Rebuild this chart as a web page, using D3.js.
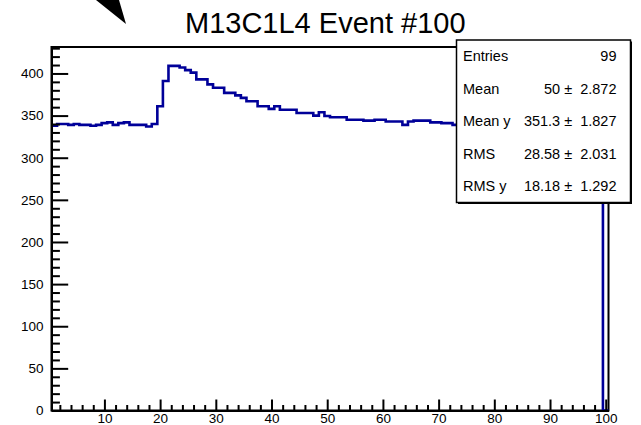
<!DOCTYPE html>
<html>
<head>
<meta charset="utf-8">
<script src="https://cdn.jsdelivr.net/npm/d3@7"></script>
<style>
  body { margin: 0; background: #fff; overflow: hidden; }
  svg { display: block; font-family: "Liberation Sans", Arial, sans-serif; }
</style>
</head>
<body>
<svg id="chart" width="641" height="425"></svg>
<script>
// ================= DATA ===================
// histogram binning (100 bins from 0.5 to 100.5)
const binLow = 0.5;
const binHigh = 100.5;

// bin contents, bins 1..100
const counts = [
  338, 340, 340, 339, 340, 339, 339, 338, 339, 341,
  342, 339, 341, 342, 339, 339, 339, 337, 340, 361,
  391, 409, 409, 407, 404, 401, 393, 393, 387, 383,
  383, 377, 377, 374, 371, 367, 367, 361, 361, 358,
  361, 357, 357, 357, 353, 353, 353, 350, 354, 349.5,
  348, 348, 348, 345, 345, 345, 344, 344, 345, 345,
  343, 343, 343, 339, 343, 344, 344, 344, 342, 342,
  341, 341, 339, 341, 340, 342, 339, 340, 341, 338,
  340, 339, 341, 340, 338, 339, 341, 340, 339, 338,
  340, 341, 339, 338, 340, 339, 341, 340, 339, 0
];

const xMajorTicks = [10, 20, 30, 40, 50, 60, 70, 80, 90, 100];
const yMajorTicks = [0, 50, 100, 150, 200, 250, 300, 350, 400];

const title = "M13C1L4 Event #100";
const statLabels = ["Entries", "Mean", "Mean y", "RMS", "RMS y"];
const statValues = ["99", "50 \u00b1  2.872", "351.3 \u00b1  1.827", "28.58 \u00b1  2.031", "18.18 \u00b1  1.292"];

// ================= LAYOUT ===================
const frame = { left: 51.5, right: 608.5, top: 47, bottom: 410.5 };
const lineColor = "#000099";

const svg = d3.select("#chart");

const x = d3.scaleLinear().domain([binLow, binHigh]).range([frame.left, frame.right]);
const y = d3.scaleLinear().domain([0, 431.4]).range([frame.bottom, frame.top]);

const binWidth = (binHigh - binLow) / counts.length;

// frame box
svg.append("rect")
  .attr("x", frame.left).attr("y", frame.top)
  .attr("width", frame.right - frame.left)
  .attr("height", frame.bottom - frame.top)
  .attr("fill", "none")
  .attr("stroke", "#000")
  .attr("stroke-width", 2);

// ---------- histogram outline ----------
const pts = counts.map((c, i) => [binLow + i * binWidth, c]);
pts.push([binHigh, counts[counts.length - 1]]);

const line = d3.line()
  .x((d) => x(d[0]))
  .y((d) => y(d[1]))
  .curve(d3.curveStepAfter);

svg.append("path")
  .datum(pts)
  .attr("d", line)
  .attr("fill", "none")
  .attr("stroke", lineColor)
  .attr("stroke-width", 2.6);

// ---------- axes ----------
const yMinor = d3.range(0, 431, 10).filter((v) => v % 50 !== 0);
const xMinor = d3.range(2, 101, 2).filter((v) => v % 10 !== 0);

const yAxisG = svg.append("g").attr("transform", `translate(${frame.left},0)`);
yAxisG.call(d3.axisLeft(y).tickValues(yMajorTicks).tickSize(-16.7).tickSizeOuter(0).tickPadding(8));
yAxisG.append("g").call(d3.axisLeft(y).tickValues(yMinor).tickSize(-8.4).tickSizeOuter(0).tickFormat(""));

const xAxisG = svg.append("g").attr("transform", `translate(0,${frame.bottom})`);
xAxisG.call(d3.axisBottom(x).tickValues(xMajorTicks).tickSize(-11).tickSizeOuter(0).tickPadding(3));
xAxisG.append("g").call(d3.axisBottom(x).tickValues(xMinor).tickSize(-5.5).tickSizeOuter(0).tickFormat(""));

svg.selectAll(".domain").attr("stroke-width", 2);
svg.selectAll(".tick line").attr("stroke-width", 2);
svg.selectAll(".tick text")
  .attr("font-family", "Liberation Sans, Arial, sans-serif")
  .attr("font-size", 13.5)
  .attr("fill", "#000");

// ---------- stats box ----------
const stats = { x: 456.5, y: 40, w: 174, h: 162.5 };
svg.append("rect")
  .attr("x", stats.x + 1.5).attr("y", stats.y + 1.5)
  .attr("width", stats.w).attr("height", stats.h)
  .attr("fill", "#000");
svg.append("rect")
  .attr("x", stats.x).attr("y", stats.y)
  .attr("width", stats.w).attr("height", stats.h)
  .attr("fill", "#fff")
  .attr("stroke", "#000")
  .attr("stroke-width", 1.5);

const rowH = stats.h / statLabels.length;
const rows = svg.append("g").attr("font-size", 14.5).attr("fill", "#000");
statLabels.forEach((lab, i) => {
  const cy = stats.y + rowH * (i + 0.5) + 5;
  rows.append("text").attr("x", stats.x + 6.5).attr("y", cy).text(lab);
  rows.append("text")
    .attr("x", stats.x + stats.w - 14)
    .attr("y", cy)
    .attr("text-anchor", "end")
    .style("white-space", "pre")
    .text(statValues[i]);
});

// ---------- title ----------
svg.append("text")
  .attr("x", 185).attr("y", 33)
  .attr("font-size", 29)
  .attr("fill", "#000")
  .text(title);

// black wedge at top-left
svg.append("path")
  .attr("d", "M96,0 L119,0 L126,24 Z")
  .attr("fill", "#000");
</script>
</body>
</html>
